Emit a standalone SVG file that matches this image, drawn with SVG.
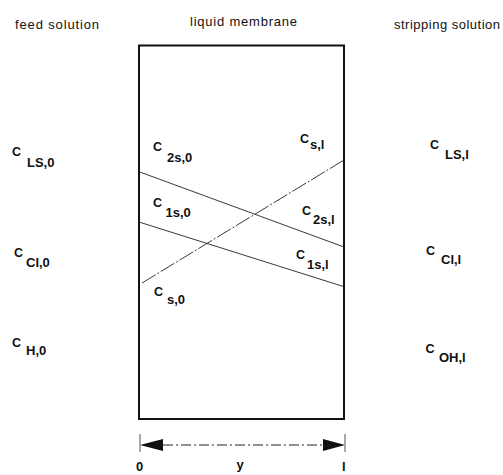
<svg xmlns="http://www.w3.org/2000/svg" width="503" height="475" viewBox="0 0 503 475">
<style>
.t{font-family:"Liberation Sans",Arial,sans-serif;font-size:13px;fill:#111}
.c{font-family:"Liberation Sans",Arial,sans-serif;font-size:12.5px;font-weight:bold;fill:#111}
.s{font-family:"Liberation Sans",Arial,sans-serif;font-size:13px;font-weight:bold;fill:#111}
.ln{stroke:#222;stroke-width:0.9;fill:none}
</style>
<rect width="503" height="475" fill="#fff"/>
<g id="titles">
<text class="t" x="15" y="29" textLength="84" lengthAdjust="spacing">feed solution</text>
<text class="t" x="190" y="26" textLength="107" lengthAdjust="spacing">liquid membrane</text>
<text class="t" x="394" y="29" textLength="106" lengthAdjust="spacing">stripping solution</text>
</g>
<g id="membrane">
<rect x="139" y="45.5" width="205" height="373.5" fill="none" stroke="#111" stroke-width="2"/>
</g>
<g id="connectors">
<line class="ln" x1="139" y1="171.7" x2="344" y2="247"/>
<line class="ln" x1="139" y1="222" x2="344" y2="286.7"/>
<line class="ln" x1="142" y1="283" x2="344" y2="160" stroke-dasharray="16 2 2 2"/>
<line x1="163" y1="445" x2="323" y2="445" stroke="#222" stroke-width="1" stroke-dasharray="10 3 2 3"/>
<polygon points="140,445 163,439 163,451" fill="#111"/>
<polygon points="345,445 323,439 323,451" fill="#111"/>
<line x1="140" y1="434" x2="140" y2="452" stroke="#555" stroke-width="1"/>
<line x1="345" y1="434" x2="345" y2="452" stroke="#555" stroke-width="1"/>
</g>
<g id="feed-labels">
<text class="c" x="12" y="155.5">C</text><text class="s" x="27" y="166.5">LS,0</text>
<text class="c" x="14" y="256.5">C</text><text class="s" x="26" y="266.5">Cl,0</text>
<text class="c" x="12" y="347">C</text><text class="s" x="26" y="355">H,0</text>
</g>
<g id="membrane-labels">
<text class="c" x="153" y="151">C</text><text class="s" x="167" y="162">2s,0</text>
<text class="c" x="300" y="142.5">C</text><text class="s" x="310" y="149">s,l</text>
<text class="c" x="153" y="207">C</text><text class="s" x="165.5" y="217">1s,0</text>
<text class="c" x="302" y="215">C</text><text class="s" x="313" y="224">2s,l</text>
<text class="c" x="296" y="259">C</text><text class="s" x="307" y="269">1s,l</text>
<text class="c" x="154" y="296">C</text><text class="s" x="167" y="303.5">s,0</text>
</g>
<g id="strip-labels">
<text class="c" x="430" y="148.5">C</text><text class="s" x="445" y="159">LS,l</text>
<text class="c" x="426" y="255">C</text><text class="s" x="441" y="264">Cl,l</text>
<text class="c" x="425.5" y="352.5">C</text><text class="s" x="439" y="361.5">OH,l</text>
</g>
<g id="axis-labels">
<text class="s" x="236.5" y="469">y</text>
<text class="s" x="136" y="471">0</text>
<text class="s" x="342" y="471">l</text>
</g>
</svg>
